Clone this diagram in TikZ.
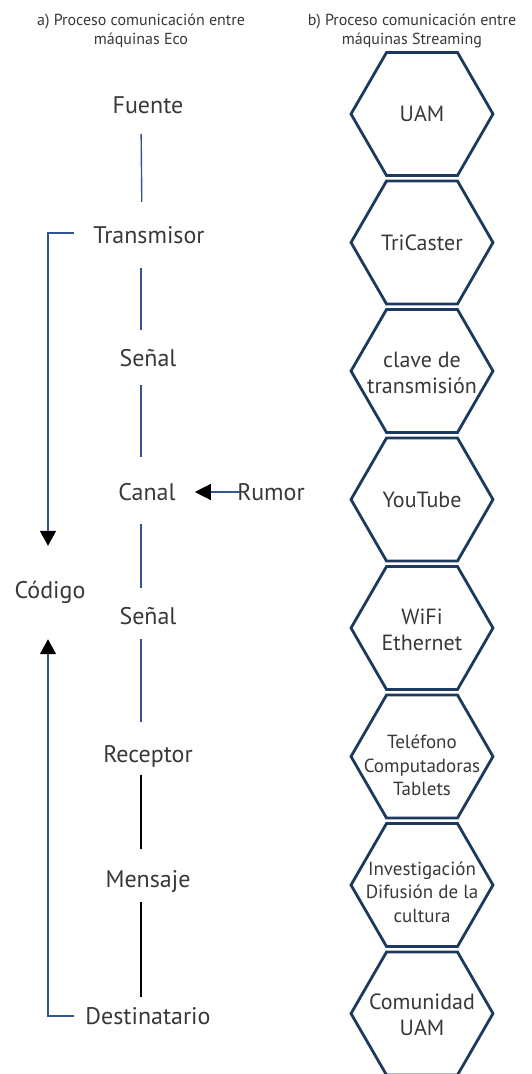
\documentclass[tikz,border=0pt]{standalone}
\usepackage{fontspec}
\setmainfont{PT Sans}
\usetikzlibrary{shapes.geometric,arrows.meta}
\definecolor{lineblue}{HTML}{34548F}
\definecolor{hexnavy}{HTML}{1D3A5E}
\definecolor{textgray}{HTML}{383838}
\begin{document}
\begin{tikzpicture}[x=1pt,y=-1pt,
    heading/.style={align=center,text=textgray,font=\fontsize{16}{18.5}\selectfont},
    stage/.style={anchor=base,inner sep=0pt,text height=17pt,text depth=5pt,text=textgray,font=\fontsize{24}{28}\selectfont},
    hexbox/.style={shape=regular polygon,regular polygon sides=6,minimum size=142pt,inner sep=0pt,
      draw=hexnavy,line width=2.8pt},
    hextext/.style={align=center,inner sep=0pt,text=textgray,font=\fontsize{22}{26}\selectfont},
    small/.style={font=\fontsize{19}{23.5}\selectfont},
    spine/.style={draw=lineblue,line width=1.4pt},
    bracket/.style={draw=lineblue,line width=1.8pt,-{Triangle[width=16pt,length=15pt,color=black]}}]
  \useasboundingbox (0,0) rectangle (531,1074);

  \node[heading] (ha) at (141,31) {a) Proceso comunicación entre\\máquinas Eco};
  \node[heading] (hb) at (412,31) {b) Proceso comunicación entre\\máquinas Streaming};

  % a) left column
  \node[stage] (fuente) at (148,113) {Fuente};
  \node[stage] (transmisor) at (149,243) {Transmisor};
  \node[stage] (senal1) at (148,366) {Señal};
  \node[stage] (canal) at (147,500) {Canal};
  \node[stage] (rumor) at (271,500) {Rumor};
  \node[stage] (senal2) at (148,624) {Señal};
  \node[stage] (receptor) at (148,762) {Receptor};
  \node[stage] (mensaje) at (148,887) {Mensaje};
  \node[stage] (destinatario) at (148,1024) {Destinatario};
  \node[stage] (codigo) at (50,598) {Código};

  \draw[spine,shorten <=16pt,shorten >=24pt] ([xshift=-7pt]fuente.south) -- ([xshift=-7pt]transmisor.north);
  \draw[spine,shorten <=20pt,shorten >=19pt] ([xshift=-8pt]transmisor.south) -- ([xshift=-7pt]senal1.north);
  \draw[spine,shorten <=14pt,shorten >=26pt] ([xshift=-7pt]senal1.south) -- ([xshift=-6pt]canal.north);
  \draw[spine,shorten <=19pt,shorten >=19pt] ([xshift=-6pt]canal.south) -- ([xshift=-7pt]senal2.north);
  \draw[spine,shorten <=10pt,shorten >=23pt] ([xshift=-7pt]senal2.south) -- ([xshift=-7pt]receptor.north);
  \draw[spine,draw=black,shorten <=8pt,shorten >=21pt] ([xshift=-7pt]receptor.south) -- ([xshift=-7pt]mensaje.north);
  \draw[spine,draw=black,shorten <=10pt,shorten >=10pt] ([xshift=-7pt]mensaje.south) -- ([xshift=-7pt]destinatario.north);

  \draw[spine,-{Triangle[width=16pt,length=16pt,color=black]},shorten <=-3pt,shorten >=19pt] ([yshift=2pt]rumor.west) -- ([yshift=2pt]canal.east);

  \draw[bracket,shorten <=19pt,shorten >=35pt] ([yshift=4pt]transmisor.west) -| ([xshift=-2pt]codigo.north);
  \draw[bracket,shorten <=11pt,shorten >=36pt] ([yshift=2pt]destinatario.west) -| ([xshift=-2pt]codigo.south);

  % b) hexagon column
  \node[hexbox,label={[hextext]center:UAM}] (uam) at (422,114) {};
  \node[hexbox,label={[hextext]center:TriCaster}] (tricaster) at (422,242.5) {};
  \node[hexbox,label={[hextext,yshift=-2pt]center:clave de\\transmisión}] (clave) at (422,371) {};
  \node[hexbox,label={[hextext]center:YouTube}] (youtube) at (422,499.5) {};
  \node[hexbox,label={[hextext,yshift=-2pt]center:WiFi\\Ethernet}] (wifi) at (422,628) {};
  \node[hexbox,label={[hextext,small,yshift=-9pt]center:Teléfono\\Computadoras\\Tablets}] (telefono) at (422,756.5) {};
  \node[hexbox,label={[hextext,small,yshift=-7pt]center:Investigación\\Difusión de la\\cultura}] (investigacion) at (422,885) {};
  \node[hexbox,label={[hextext,yshift=-1pt]center:Comunidad\\UAM}] (comunidad) at (422,1013.5) {};
\end{tikzpicture}
\end{document}
